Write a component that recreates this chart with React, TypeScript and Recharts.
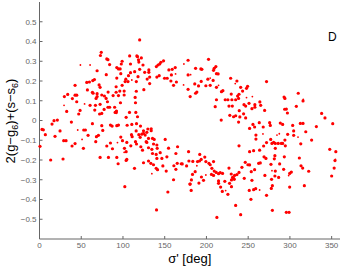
import { ScatterChart, Scatter, XAxis, YAxis } from "recharts";

const X_TICKS = [0, 50, 100, 150, 200, 250, 300, 350];
const Y_TICKS = [-0.5, -0.4, -0.3, -0.2, -0.1, 0, 0.1, 0.2, 0.3, 0.4, 0.5];

// [sigma' in deg, 2(g-g6)+(s-s6)]
const LARGE_DOTS: number[][] = [
  [120,.408],[74,.345],[73,.329],[80.6,.312],[82,.308],[84,.283],[69,.252],[80,.232],[108,.327],[116.6,.327],[117.4,.323],[122,.317],[118.6,.307],[119,.296],[99,.3],[98,.286],[109,.286],[124,.281],[92.6,.268],[94.6,.261],[96.6,.261],[120,.259],[114,.247],[109,.242],[126,.244],[131,.256],[131,.244],[97.4,.237],[92.6,.215],[106.6,.227],[118,.222],[103.4,.209],[106,.197],[102.6,.197],[99,.178],[91.8,.171],[116,.197],[129,.21],[132,.22],[132,.187],[125,.156],[116,.148],[114.6,.117],[140,.273],[142,.281],[144,.286],[145.4,.295],[148.6,.302],[140.6,.22],[143.4,.227],[149.8,.214],[153,.214],[155,.256],[159,.259],[162.6,.268],[158,.231],[157.4,.2],[164,.195],[160.6,.178],[178,.305],[178,.231],[178,.158],[42.6,.178],[56.6,.193],[59.8,.195],[63.8,.202],[65.8,.207],[57.4,.155],[71.4,.18],[72.6,.168],[63.4,.143],[64.2,.138],[69,.136],[69,.121],[67.8,.112],[74.6,.129],[77.8,.124],[79.8,.112],[82.2,.144],[88.2,.126],[91.8,.143],[94.6,.126],[96.2,.149],[101.4,.149],[101.4,.129],[42.6,.128],[44.6,.128],[33.8,.132],[29.8,.121],[39.4,.111],
  [202.5,.31],[187,.264],[193.3,.261],[194.5,.259],[209.3,.264],[208.5,.254],[211.3,.273],[212,.237],[214,.236],[229,.214],[201.7,.209],[193.7,.198],[208,.203],[186,.185],[190.5,.175],[199.3,.176],[204.5,.178],[212,.168],[236.5,.2],[241,.168],[243.3,.149],[272,.197],[249.3,.173],[248,.163],[218,.146],[219.7,.151],[187,.138],[188.5,.144],[229.7,.134],[239,.133],[237.3,.124],[238.5,.112],[180.5,.121],[212,.105],[222.5,.105],[225.7,.105],[230.5,.105],[235,.105],[293,.119],[294,.112],[310,.138],
  [44.6,.095],[60.6,.077],[67,.077],[72.6,.082],[81.4,.095],[97,.09],[115,.09],[82,.067],[77.4,.056],[84,.067],[90,.067],[92.2,.048],[90.6,.041],[92,.04],[66.2,.053],[32.6,.046],[48.6,.051],[47,.033],[72,.033],[74.6,.036],[103.8,.016],[107.8,.041],[115.4,.041],[117.4,.019],[17.4,-.001],[21.4,.002],[15,-.018],[38.2,-.008],[63.4,-.016],[74.6,-.026],[75.8,-.05],[85,-.023],[87,-.028],[92.6,-.026],[94.6,-.023],[105,-.024],[110.6,-.02],[116.2,-.016],[121,-.028],[53,-.048],[55,-.048],[58.2,-.075],[3,-.045],[4.6,-.047],[7,-.072],[18.6,-.08],[24.6,-.053],[68.2,-.082],[70.6,-.075],[67.4,-.107],[29,-.102],[31.8,-.102],[42.6,-.117],[39,-.129],[52.6,-.141],[.6,-.131],[97.4,-.084],[99.4,-.102],[104.6,-.111],[109.4,-.128],[80.6,-.129],[85,-.114],[87.4,-.143],[110.2,-.072],[111,-.082],[115.8,-.053],[115,-.107],[116.2,-.119],[119,-.072],[120.6,-.085],[122.6,-.069],[124.6,-.065],[126.6,-.074],[124.6,-.052],[128.6,-.06],[129.8,-.043],[133.8,-.042],[133.8,-.052],[130.6,-.091],[135.4,-.091],[137.4,-.096],[127.8,-.107],[121.4,-.133],[123.4,-.15],[128.6,-.111],[150.6,-.096],[136.6,-.119],[140.6,-.124],[141,-.141],[134.6,-.146],[130.6,-.138],[135.4,-.167],[139.8,-.172],[144.6,-.163],[154.6,-.14],[165.4,-.133],[163.4,-.167],[178.6,-.158],[152.6,-.184],[146.6,-.192],[140.6,-.192],[72.6,-.187],[82.6,-.187],[92.6,-.187],[13.4,-.2],[28.2,-.195],[101.8,-.141],[103.8,-.158],[104.6,-.197],
  [245,.08],[247,.073],[251,.087],[258,.08],[258,.067],[254.5,.06],[264,.094],[265,.077],[269.7,.051],[227,.073],[231,.073],[210.5,.07],[239.3,.05],[244.5,.034],[240,.018],[247,.013],[238.5,-.008],[228,.026],[232.5,.019],[235,.024],[217.7,.002],[293.7,.057],[295.7,.058],[297,.038],[307.7,.072],[315.7,.099],[338,.036],[342,.013],[351.3,-.016],[331.7,-.031],[255.7,-.02],[257.7,-.033],[251.7,-.04],[263.3,-.011],[268,-.033],[275.7,-.011],[276.5,-.025],[288.5,-.013],[291.3,-.02],[303.3,-.025],[312.5,-.015],[315.7,-.015],[319,-.057],[304.5,-.053],[304.5,-.075],[297.3,-.07],[259.3,-.074],[259.3,-.094],[326,-.099],[313,-.118],[294,-.099],[277,-.096],[272,-.112],[278.5,-.116],[280.5,-.111],[282.5,-.116],[286,-.116],[289.7,-.116],[291.3,-.116],[294.5,-.128],[268.5,-.129],[282.5,-.141],[239,-.128],[263.7,-.15],[256.5,-.153],[251.7,-.158],[347.7,-.146],[355,-.158],[192,-.172],[198,-.185],[193.7,-.197],[269,-.184],[271.3,-.192],[281.3,-.194],[282,-.178],[293.3,-.184],[311.3,-.19],
  [94.2,-.219],[103.8,-.202],[113.8,-.242],[124.6,-.214],[130.6,-.205],[133.4,-.217],[136.6,-.224],[139.8,-.242],[141.4,-.249],[147.8,-.23],[151.8,-.256],[161,-.229],[165,-.217],[169.8,-.219],[171,-.22],[163.4,-.247],[176.2,-.23],[179,-.205],[160.6,-.3],[180.2,-.322],[102.2,-.335],[153.8,-.362],[140.2,-.453],
  [354,-.203],[353,-.241],[350,-.281],[313.3,-.229],[315.3,-.241],[322.5,-.257],[317.3,-.33],[287.7,-.22],[277.3,-.222],[292.5,-.247],[301.7,-.261],[299.7,-.268],[282.5,-.256],[270,-.278],[282,-.281],[286.5,-.288],[278,-.298],[299.7,-.337],[279,-.33],[277.7,-.344],[272,-.379],[246.5,-.212],[242.5,-.237],[249.7,-.224],[251.7,-.225],[253.7,-.259],[257.7,-.249],[262.5,-.217],[264.5,-.215],[227,-.241],[239,-.263],[236.5,-.274],[233.7,-.278],[229.7,-.271],[245.3,-.293],[254.5,-.303],[231.3,-.288],[232.5,-.293],[233.3,-.298],[230,-.301],[227.7,-.318],[230,-.335],[225.7,-.374],[251.3,-.354],[256.5,-.35],[259,-.345],[253.3,-.399],[235,-.43],[241,-.477],[212.5,-.491],[279,-.455],[295.7,-.465],[299,-.465],
  [183.7,-.207],[189.3,-.208],[191.7,-.205],[199.3,-.208],[203,-.217],[204.5,-.224],[208.5,-.208],[206.5,-.242],[209.3,-.256],[211.7,-.263],[206,-.273],[208.5,-.278],[186.5,-.259],[183.3,-.273],[194,-.286],[196.5,-.303],[182,-.301],[191,-.317],[180.5,-.322],[181.7,-.354],[214.5,-.269],[216.5,-.264],[219.3,-.268],[214.5,-.306],[214.5,-.318],[217,-.337],[219,-.359],[222,-.308],
];

const SMALL_DOTS: number[][] = [
  [49,.281],[60.6,.281],[110.6,.205],[163,.236],[173,.286],[172.6,.18],[181,.232],[204.5,.215],[214.5,.178],[234.5,.187],[248,.116],[255,.121],[316,.107],
  [54,.084],[29.4,.077],[45.8,-.048],[51,-.096],[93.4,-.112],[101.4,-.161],[267.7,-.068],[284.5,-.074],[287.3,-.067],[309.7,-.084],[354.5,-.197],
  [134.6,-.269],[278.5,-.254],[298.5,-.279],[199.3,-.276],[263.7,-.352],[223,-.355],[188.5,-.229],
];

const toPoints = (rows: number[][]) => rows.map(([sigma, value]) => ({ sigma, value }));

const axisGrey = "#666666";
const fontFamily = "'Liberation Sans', Arial, sans-serif";

const dot = (r: number) => (props: any) => <circle cx={props.cx} cy={props.cy} r={r} fill="#ff0000" />;

function YLabel() {
  return (
    <text transform="translate(15,121) rotate(-90)" textAnchor="middle" fontSize={13} fontFamily={fontFamily} fill="#000">
      2(g−g<tspan dy={3} fontSize={9}>6</tspan>
      <tspan dy={-3}>)+(s−s</tspan>
      <tspan dy={3} fontSize={9}>6</tspan>
      <tspan dy={-3}>)</tspan>
    </text>
  );
}

export default function App() {
  return (
    <div style={{ position: "absolute", left: 0, top: 0, width: 346, height: 267, background: "#fff" }}>
      <ScatterChart width={346} height={267} margin={{ top: 2, right: 6, bottom: 0, left: 0 }}>
        <XAxis
          type="number"
          dataKey="sigma"
          domain={[0, 360]}
          ticks={X_TICKS}
          interval={0}
          height={28}
          stroke={axisGrey}
          tickSize={-3}
          tickMargin={6}
          tick={{ fontSize: 8, fill: axisGrey, fontFamily }}
          label={{ value: "σ' [deg]", position: "insideBottom", offset: 4, dx: 0, fontSize: 13, fill: "#000", fontFamily }}
        />
        <YAxis
          type="number"
          dataKey="value"
          domain={[-0.6, 0.6]}
          ticks={Y_TICKS}
          interval={0}
          width={39.5}
          stroke={axisGrey}
          tickSize={-3}
          tickMargin={6}
          tick={{ fontSize: 8, fill: axisGrey, fontFamily }}
          tickFormatter={(v: number) => String(v).replace("-", "−")}
          label={<YLabel />}
        />
        <Scatter data={toPoints(SMALL_DOTS)} shape={dot(0.9)} isAnimationActive={false} />
        <Scatter data={toPoints(LARGE_DOTS)} shape={dot(1.6)} isAnimationActive={false} />
      </ScatterChart>
      <div style={{ position: "absolute", left: 328, top: 30, fontSize: 12, fontFamily, color: "#000", lineHeight: "14px" }}>D</div>
    </div>
  );
}
